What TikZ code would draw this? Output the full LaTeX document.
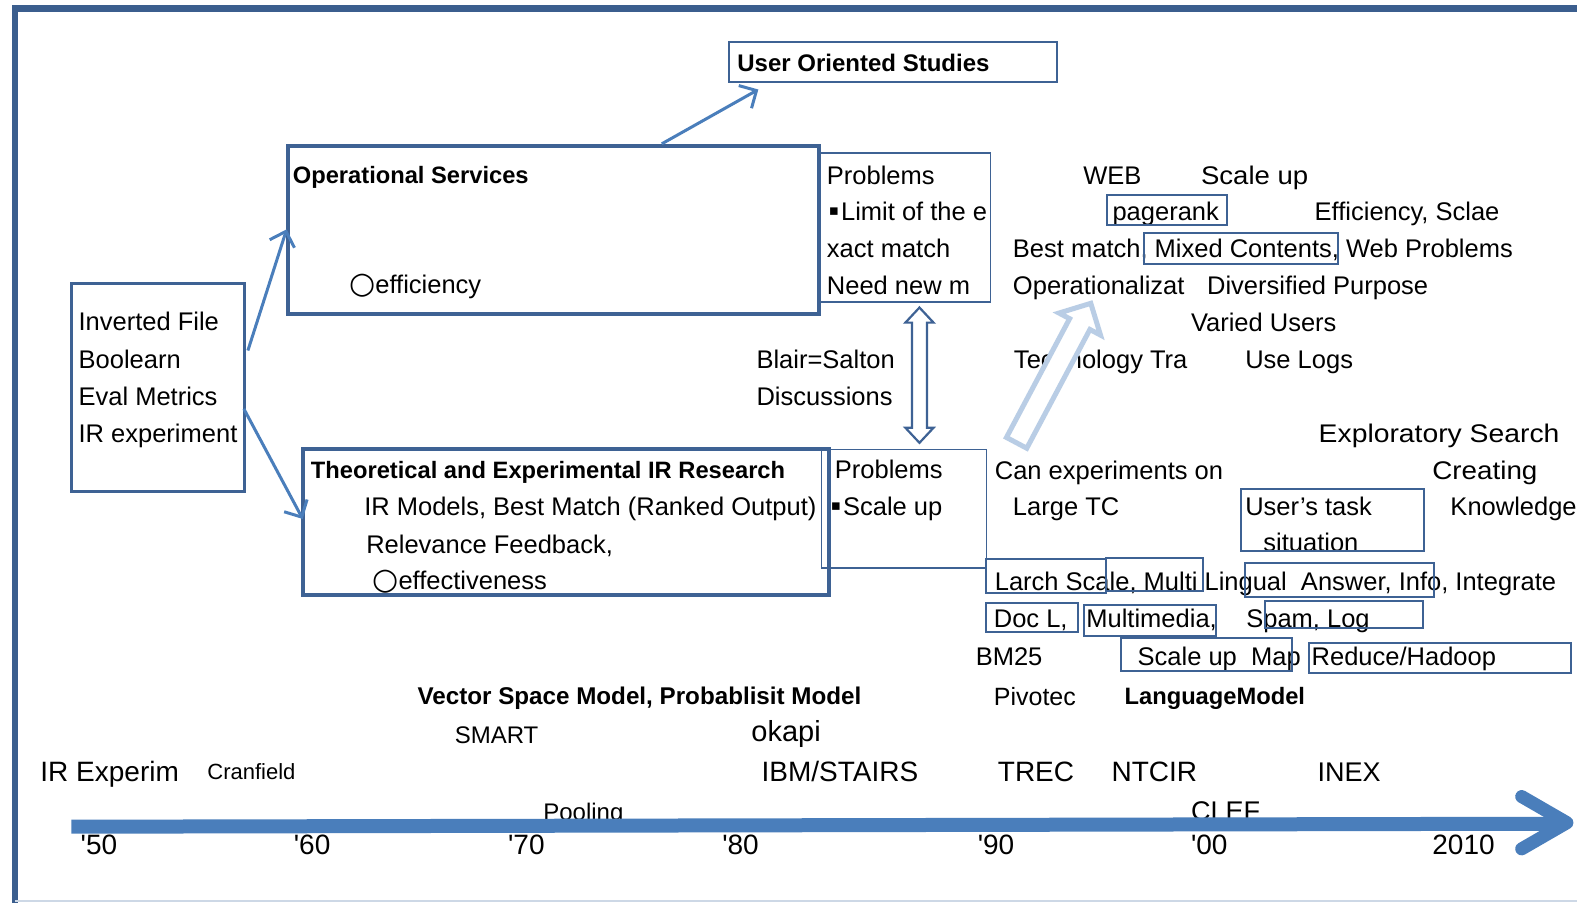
\documentclass[tikz,border=0pt]{standalone}
\usepackage{graphicx}
\usepackage{fontspec}
\newfontfamily\mainf{Liberation Sans}
\newfontfamily\symf{DejaVu Sans}
\usetikzlibrary{arrows.meta,shapes.arrows,calc,fit}
\definecolor{frameblue}{RGB}{59,94,142}
\definecolor{boxblue}{RGB}{62,98,148}
\definecolor{arrowblue}{RGB}{74,126,187}
\definecolor{paleblue}{RGB}{185,205,229}
\definecolor{faintline}{RGB}{205,216,230}
\newcommand{\fs}[1]{\fontsize{#1}{#1}\selectfont}
\newcommand{\wcirc}{{\symf\fs{30}○}}
\newcommand{\sqbul}{\raisebox{5pt}{\symf\fs{15}▪}\hspace{2pt}}
\begin{document}
\begin{tikzpicture}[x=1.0057pt,y=-1.0057pt,
  txt/.style={anchor=base west, inner sep=0pt, font=\mainf\fs{25.5}},
  ttl/.style={anchor=base west, inner sep=0pt, font=\mainf\bfseries\fs{23.7}},
  tln/.style={anchor=base west, inner sep=0pt, font=\mainf\fs{28}},
  heavybox/.style={draw=boxblue, line width=4pt, inner sep=0pt},
  midbox/.style={draw=boxblue, line width=3pt, inner sep=0pt},
  thinbox/.style={draw=boxblue, line width=1.6pt, inner sep=0pt},
  tagbox/.style={draw=boxblue, line width=2pt, inner sep=0pt},
  link/.style={draw=arrowblue, line width=3pt, -{Straight Barb[length=13pt,width=26pt,line width=3pt]}},
  dblarrow/.style={draw=boxblue, line width=2.2pt, fill=white, line join=miter},
]
\useasboundingbox (0,0) rectangle (1568,898);
\fill[white] (0,0) rectangle (1568,898);

% frame
\draw[frameblue, line width=7pt] (12,8) -- (1568,8);
\draw[frameblue, line width=6pt] (15,5) -- (15,898);
\draw[faintline, line width=2pt] (15,896) -- (1568,896);

% ---------- texts ----------
\node[ttl, font=\mainf\bfseries\fs{24}] (uost) at (733,71) {User Oriented Studies};
% left box
\node[txt] (l1) at (78,329) {Inverted File};
\node[txt] (l2) at (78,366) {Boolearn};
\node[txt] (l3) at (78,403) {Eval Metrics};
\node[txt] (l4) at (78,440) {IR experiment};
% operational
\node[ttl] (opt) at (291,182) {Operational Services};
\node[txt] (ope) at (347,292) {\wcirc efficiency};
% problems 1
\node[txt] (p11) at (822,183) {Problems};
\node[txt] (p12) at (824,219) {\sqbul Limit of the e};
\node[txt] (p13) at (822,256) {xact match};
\node[txt] (p14) at (822,293) {Need new m};
% Blair
\node[txt] (bs1) at (752,366) {Blair=Salton};
\node[txt] (bs2) at (752,403) {Discussions};
% theoretical
\node[ttl] (tht) at (309,476) {Theoretical and Experimental IR Research};
\node[txt] (th1) at (362,513) {IR Models, Best Match (Ranked Output)};
\node[txt] (th2) at (364,550) {Relevance Feedback,};
\node[txt] (th3) at (370,586) {\wcirc effectiveness};
% problems 2
\node[txt] (p21) at (830,476) {Problems};
\node[txt] (p22) at (826,513) {\sqbul Scale up};
% right side
\node[txt] (web) at (1077,183) {WEB};
\node[txt] (scu) at (1194,183) {\scalebox{1.08}[1]{Scale up}};
\node[txt] (prk) at (1106,219) {pagerank};
\node[txt] (eff) at (1307,219) {Efficiency, Sclae};
\node[txt] (bmm) at (1007,256) {Best match, Mixed Contents, Web Problems};
\node[txt] (opz) at (1007,293) {Operationalizat};
\node[txt] (dvp) at (1200,293) {Diversified Purpose};
\node[txt] (vus) at (1184,330) {Varied Users};
\node[txt] (tec) at (1008,366) {Technology Tra};
\node[txt] (ulg) at (1238,366) {Use Logs};
\node[txt] (exs) at (1311,440) {\scalebox{1.11}[1]{Exploratory Search}};
\node[txt] (cre) at (1424,477) {\scalebox{1.09}[1]{Creating}};
\node[txt] (kno) at (1442,513) {Knowledge};
\node[txt] (cex) at (989,477) {Can experiments on};
\node[txt] (ltc) at (1007,513) {Large TC};
\node[txt] (ust) at (1238,513) {User’s task};
\node[txt] (sit) at (1256,548) {situation};
\node[txt] (lsc) at (989,587) {Larch Scale, Multi Lingual\ \ Answer, Info, Integrate};
\node[txt] (dcl) at (988,624) {Doc L,};
\node[txt] (mmd) at (1080,624) {Multimedia,};
\node[txt] (spl) at (1239,624) {Spam, Log};
\node[txt] (bm25) at (970,662) {BM25};
\node[txt] (sum) at (1131,662) {Scale up\ \ Map};
\node[txt] (rdh) at (1304,662) {Reduce/Hadoop};
\node[txt, font=\mainf\fs{25}] (piv) at (988,701) {Pivotec};
\node[ttl] (lgm) at (1118,700) {LanguageModel};
\node[ttl, font=\mainf\bfseries\fs{24.2}] (vsm) at (415,700) {Vector Space Model, Probablisit Model};
% timeline labels
\node[tln, font=\mainf\fs{24}] (smt) at (452,739) {SMART};
\node[tln, font=\mainf\fs{29}] (oka) at (747,737) {okapi};
\node[tln] (ire) at (40,777) {IR Experim};
\node[tln, font=\mainf\fs{22}] (crf) at (206,775) {Cranfield};
\node[tln] (ibm) at (757,777) {IBM/STAIRS};
\node[tln] (trc) at (992,777) {TREC};
\node[tln] (ntc) at (1105,777) {NTCIR};
\node[tln, font=\mainf\fs{27}] (inx) at (1310,777) {INEX};
\node[tln, font=\mainf\fs{24}] (pol) at (540,816) {Pooling};
\node[tln, font=\mainf\fs{27}] (clf) at (1184,816) {CLEF};
\node[tln] (y50) at (80,850) {'50};
\node[tln] (y60) at (292,850) {'60};
\node[tln] (y70) at (505,850) {'70};
\node[tln] (y80) at (718,850) {'80};
\node[tln] (y90) at (972,850) {'90};
\node[tln] (y00) at (1184,850) {'00};
\node[tln] (y10) at (1424,850) {2010};

% ---------- boxes ----------
\node[fit={(725,42)(1051,82)}, tagbox] (uos) {};
\node[fit={(71,282)(243,489)}, midbox] (inv) {};
\node[fit={(286,145)(814,312)}, heavybox] (ops) {};
\node[fit={(301,446)(824,592)}, heavybox] (theo) {};
\node[fit={(816,152)(985,300)}, thinbox] (prob1) {};
\node[fit={(817,447)(981,565)}, thinbox] (prob2) {};
\node[fit={(1101,194)(1220,224)}, tagbox] (bpr) {};
\node[fit={(1137,232)(1330,262)}, tagbox] (bmc) {};
\node[fit={(1234,486)(1416,548)}, tagbox] (but) {};
\node[fit={(980,556)(1100,590)}, tagbox] (bls) {};
\node[fit={(1100,555)(1196,588)}, tagbox] (bml) {};
\node[fit={(1238,560)(1426,594)}, tagbox] (bai) {};
\node[fit={(980,600)(1072,628)}, tagbox] (bdl) {};
\node[fit={(1078,602)(1209,632)}, tagbox] (bmm) {};
\node[fit={(1258,598)(1415,624)}, tagbox] (bsl) {};
\node[fit={(1115,634)(1285,667)}, tagbox] (bsu) {};
\node[fit={(1302,639)(1562,669)}, tagbox] (brh) {};

% ---------- connectors ----------
\draw[link] ($(ops.north west)+(374,0)$) -- ($(uos.south west)+(30,6)$);
\draw[link] ($(inv.north east)+(2,68)$) -- ($(ops.north west)+(1,85)$);
\draw[link] ($(inv.north east)+(-2,126)$) -- ($(theo.north west)+(2,72)$);

% double hollow arrow between problem boxes
\coordinate (dtop) at ($(prob1.south west)+(99,5)$);
\draw[dblarrow] (dtop) -- ++(14,15) -- ++(-6.5,0) -- ++(0,104.5) -- ++(6.5,0)
  -- ++(-14,15) -- ++(-14,-15) -- ++(6.5,0) -- ++(0,-104.5) -- ++(-6.5,0) -- cycle;

% pale hollow arrow
\node[single arrow, draw=paleblue, fill=white, line width=5pt,
  minimum height=158pt, inner sep=9pt, single arrow head extend=12pt,
  rotate=62] (pale) at (1045,376) {};

% timeline
\coordinate (ax0) at (71,822);
\coordinate (ax1) at (1556,819);
\draw[arrowblue, line width=14pt] (ax0) -- (ax1);
\draw[arrowblue, line width=13pt, line cap=round, line join=round]
  ($(ax1)+(-43,-27)$) -- ($(ax1)+(2,-1)$) -- ($(ax1)+(-43,25)$);
\end{tikzpicture}
\end{document}
